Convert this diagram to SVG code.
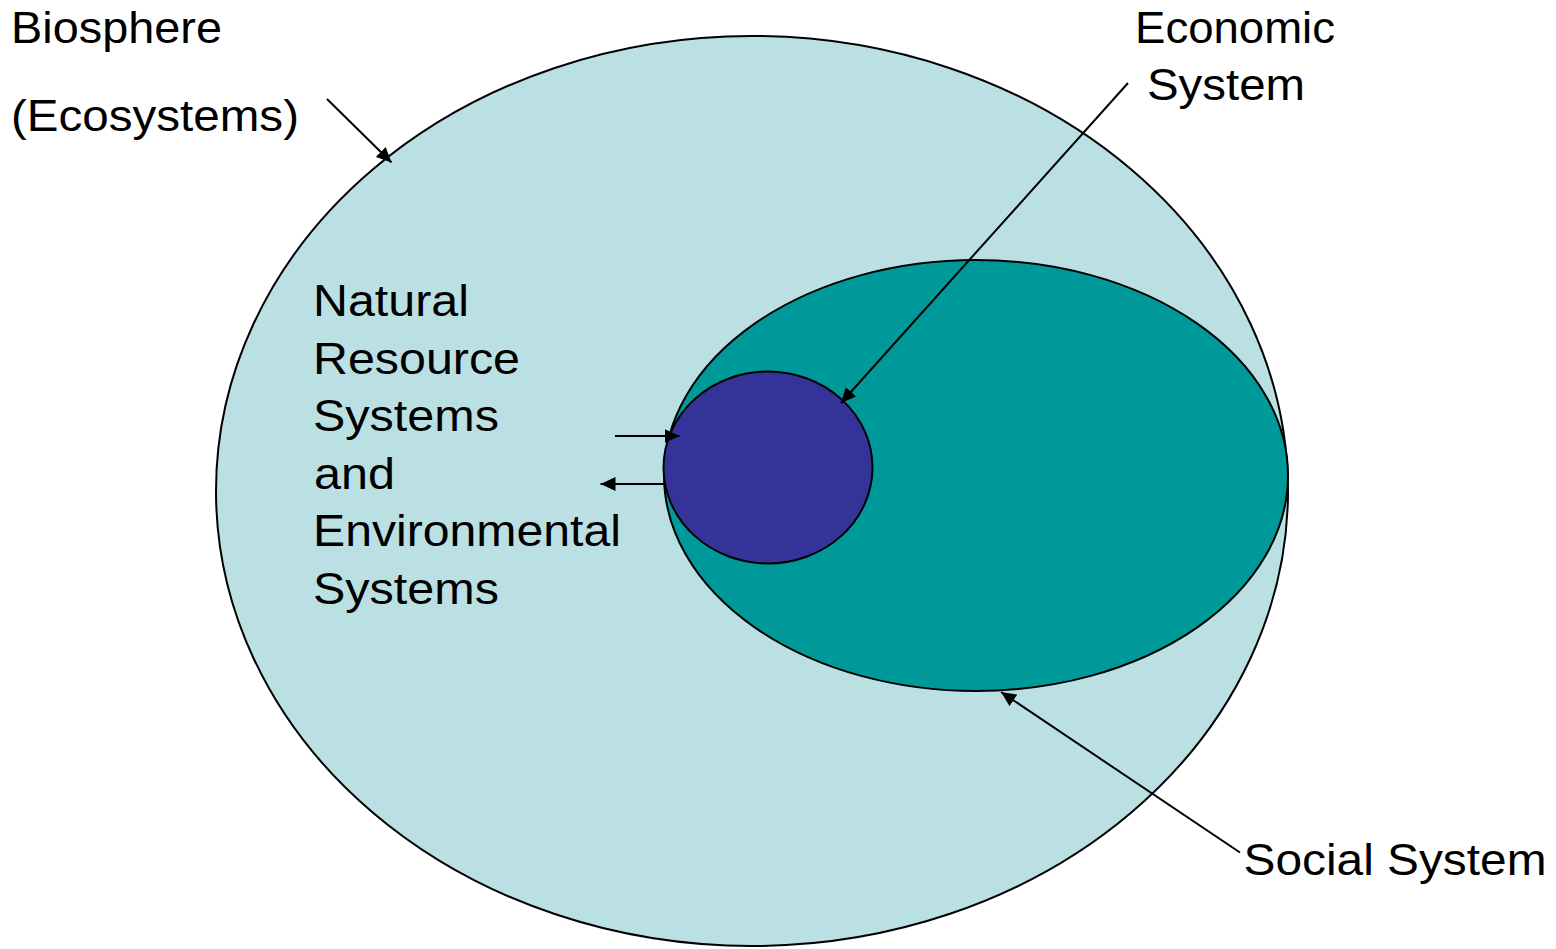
<svg xmlns="http://www.w3.org/2000/svg" width="1556" height="949" viewBox="0 0 1556 949">
<style>
.lbl{font-family:"Liberation Sans",Arial,sans-serif;font-size:44px;fill:#000}
.conn{stroke:#000;stroke-width:2;fill:none}
.shape{stroke:#000;stroke-width:2}
</style>
<defs>
<marker id="ah" markerUnits="userSpaceOnUse" markerWidth="16" markerHeight="14" refX="15" refY="7" orient="auto">
<path d="M0,0 L15,7 L0,14 z" fill="#000"/>
</marker>
</defs>
<rect width="1556" height="949" fill="#fff"/>
<g id="biosphere">
<ellipse class="shape" cx="752" cy="491" rx="536" ry="455" fill="#BBE0E3"/>
</g>
<g id="social">
<ellipse class="shape" cx="976" cy="475.5" rx="312" ry="215.5" fill="#009999"/>
</g>
<g id="economic">
<ellipse class="shape" cx="768" cy="467.5" rx="104.5" ry="96" fill="#333399"/>
</g>
<g id="connectors">
<line class="conn" x1="327" y1="99" x2="391.5" y2="162.5" marker-end="url(#ah)"/>
<line class="conn" x1="1128" y1="83" x2="841" y2="403" marker-end="url(#ah)"/>
<line class="conn" x1="1240" y1="852.5" x2="1001" y2="692" marker-end="url(#ah)"/>
<line class="conn" x1="615" y1="436" x2="679.5" y2="436" marker-end="url(#ah)"/>
<line class="conn" x1="664" y1="484" x2="600.5" y2="484" marker-end="url(#ah)"/>
</g>
<g id="labels">
<text class="lbl" x="11" y="43" textLength="211" lengthAdjust="spacingAndGlyphs">Biosphere</text>
<text class="lbl" x="11" y="131" textLength="288" lengthAdjust="spacingAndGlyphs">(Ecosystems)</text>
<text class="lbl" x="1135" y="43" textLength="200" lengthAdjust="spacingAndGlyphs">Economic</text>
<text class="lbl" x="1147" y="100" textLength="158" lengthAdjust="spacingAndGlyphs">System</text>
<text class="lbl" x="1243.5" y="875" textLength="303" lengthAdjust="spacingAndGlyphs">Social System</text>
<text class="lbl" x="313" y="316" textLength="156" lengthAdjust="spacingAndGlyphs">Natural</text>
<text class="lbl" x="313" y="373.5" textLength="207" lengthAdjust="spacingAndGlyphs">Resource</text>
<text class="lbl" x="313" y="431" textLength="186" lengthAdjust="spacingAndGlyphs">Systems</text>
<text class="lbl" x="314" y="488.5" textLength="81" lengthAdjust="spacingAndGlyphs">and</text>
<text class="lbl" x="313" y="546" textLength="308" lengthAdjust="spacingAndGlyphs">Environmental</text>
<text class="lbl" x="313" y="603.5" textLength="186" lengthAdjust="spacingAndGlyphs">Systems</text>
</g>
</svg>
